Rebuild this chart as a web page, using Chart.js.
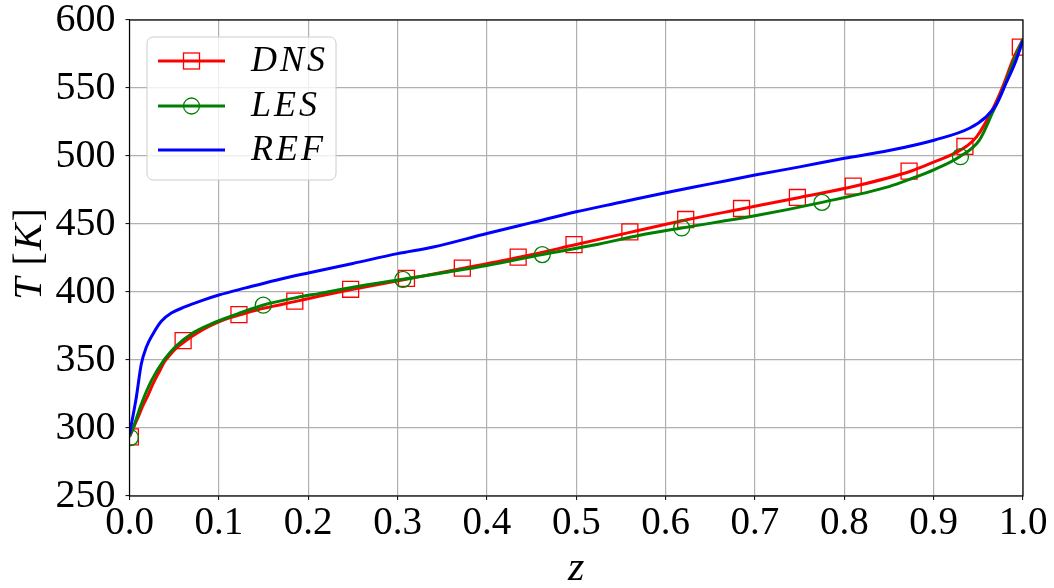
<!DOCTYPE html>
<html>
<head>
<meta charset="utf-8">
<script src="https://cdn.jsdelivr.net/npm/chart.js@4.4.0/dist/chart.umd.min.js"></script>
<style>
  html, body { margin: 0; padding: 0; background: #fff; }
  #wrap { width: 1054px; height: 588px; }
</style>
</head>
<body>
<div id="wrap"><canvas id="tempChart" width="1054" height="588"></canvas></div>
<script>
// Temperature profiles T(z)
const dnsZ = [0, 0.005, 0.01, 0.015, 0.02, 0.026, 0.033, 0.039, 0.045, 0.052, 0.0625, 0.075, 0.09, 0.1, 0.112, 0.125, 0.15, 0.1875, 0.213, 0.25, 0.3125, 0.375, 0.4375, 0.5, 0.5625, 0.625, 0.6875, 0.75, 0.8125, 0.875, 0.9, 0.922, 0.9375, 0.948, 0.966, 0.9777, 0.989, 1.0];
const dnsT = [293.5, 301, 308.5, 316.5, 323, 332, 341, 348.5, 353.5, 358.5, 364, 369.5, 375, 378, 381, 383.5, 388, 393.3, 397, 402, 409.8, 417.6, 425.7, 434.9, 444.2, 453.3, 461.4, 469.5, 477.9, 489, 495.5, 501.5, 507.5, 514, 534.4, 551.6, 571.3, 586];

const lesZ = [0, 0.004, 0.0132, 0.0244, 0.0393, 0.0524, 0.0692, 0.0915, 0.121, 0.149, 0.1875, 0.213, 0.25, 0.306, 0.35, 0.4, 0.462, 0.52, 0.571, 0.618, 0.7, 0.775, 0.85, 0.873, 0.9013, 0.929, 0.951, 0.966, 0.9777, 0.989, 1.0];
const lesT = [294, 300, 317.5, 334.6, 350.6, 360.5, 369.2, 376.5, 383.9, 390.3, 396, 399, 403.5, 409.3, 414, 419.5, 427.5, 434.5, 441.7, 447.1, 456, 465.9, 477.5, 482.8, 490.2, 499.5, 511.5, 532, 549.2, 568.9, 586];

const refZ = [0, 0.0076, 0.0132, 0.0188, 0.0263, 0.0356, 0.0468, 0.0618, 0.08, 0.1, 0.13, 0.164, 0.2, 0.25, 0.3, 0.34, 0.4, 0.45, 0.5, 0.55, 0.6, 0.65, 0.7, 0.75, 0.8, 0.85, 0.9013, 0.94, 0.959, 0.97, 0.981, 0.991, 1.0];
const refT = [295.5, 322.5, 347, 359.4, 369.2, 378.5, 384.5, 389, 393.5, 397.8, 403, 408.7, 414, 421, 428.2, 433.1, 443, 451, 459, 466, 473, 479.5, 486, 492, 498.3, 504, 511.8, 520.4, 529, 537.6, 553.5, 568.3, 585];

// marker positions (markevery style)
const dnsMarkZ = [0.001, 0.06, 0.1225, 0.185, 0.2475, 0.31, 0.3725, 0.435, 0.4975, 0.56, 0.6225, 0.685, 0.7475, 0.81, 0.8725, 0.935, 0.997];
const dnsMarkT = [293.5, 364.3, 383.3, 393.3, 402, 410, 417.6, 425.7, 434.9, 444.2, 453.3, 461.4, 469.5, 477.9, 488.9, 507, 580];
const lesMarkZ = [0.001, 0.1497, 0.306, 0.462, 0.618, 0.775, 0.93];
const lesMarkT = [293, 390.3, 409.3, 427.5, 447.1, 465.9, 499.5];

const xTicks = [0, 0.1, 0.2, 0.3, 0.4, 0.5, 0.6, 0.7, 0.8, 0.9, 1.0];
const yTicks = [250, 300, 350, 400, 450, 500, 550, 600];

const legendItems = [
    { text: 'DNS', color: 'rgb(255, 0, 0)', marker: 'rect' },
    { text: 'LES', color: 'rgb(0, 128, 0)', marker: 'circle' },
    { text: 'REF', color: 'rgb(0, 0, 255)', marker: null }
];

const toPoints = (xs, ys) => xs.map((x, i) => ({ x: x, y: ys[i] }));

const SERIF = '"Liberation Serif", "DejaVu Serif", serif';

// black frame round the plot area, like matplotlib spines
const framePlugin = {
    id: 'frame',
    afterDatasetsDraw(chart) {
        const { ctx, chartArea: a } = chart;
        ctx.save();
        ctx.strokeStyle = '#000';
        ctx.lineWidth = 1.2;
        ctx.strokeRect(a.left, a.top, a.right - a.left, a.bottom - a.top);
        ctx.restore();
    }
};

// axis titles with mixed italic / upright text
const titlesPlugin = {
    id: 'axisTitles',
    afterDraw(chart) {
        const { ctx, chartArea: a } = chart;
        ctx.save();
        ctx.fillStyle = '#000';
        ctx.textBaseline = 'alphabetic';

        // x title
        ctx.font = 'italic 42px ' + SERIF;
        ctx.textAlign = 'center';
        ctx.fillText('z', (a.left + a.right) / 2, 580);

        // y title, rotated
        const parts = [
            { t: 'T', f: 'italic 40px ' + SERIF },
            { t: ' [', f: '40px ' + SERIF },
            { t: 'K', f: 'italic 40px ' + SERIF },
            { t: ']', f: '40px ' + SERIF }
        ];
        let total = 0;
        parts.forEach(p => { ctx.font = p.f; p.w = ctx.measureText(p.t).width + 2; total += p.w; });
        ctx.translate(41, (a.top + a.bottom) / 2 - 5);
        ctx.rotate(-Math.PI / 2);
        ctx.textAlign = 'left';
        let x = -total / 2;
        parts.forEach(p => { ctx.font = p.f; ctx.fillText(p.t, x, 0); x += p.w; });
        ctx.restore();
    }
};

// legend box drawn like the matplotlib one
const legendPlugin = {
    id: 'mplLegend',
    afterDraw(chart) {
        const ctx = chart.ctx;
        const bx = 147, by = 37, bw = 189, bh = 143, r = 6;
        ctx.save();
        ctx.beginPath();
        ctx.roundRect(bx, by, bw, bh, r);
        ctx.fillStyle = 'rgba(255, 255, 255, 0.8)';
        ctx.fill();
        ctx.strokeStyle = '#cccccc';
        ctx.lineWidth = 1;
        ctx.stroke();

        const rows = [61, 106, 150];
        legendItems.forEach((item, i) => {
            const y = rows[i];
            ctx.beginPath();
            ctx.moveTo(158, y);
            ctx.lineTo(225, y);
            ctx.strokeStyle = item.color;
            ctx.lineWidth = 3;
            ctx.stroke();
            ctx.lineWidth = 1.3;
            if (item.marker === 'rect') {
                ctx.strokeRect(183.5, y - 8, 16, 16);
            } else if (item.marker === 'circle') {
                ctx.beginPath();
                ctx.arc(191.5, y, 8, 0, Math.PI * 2);
                ctx.stroke();
            }
            ctx.fillStyle = '#000';
            ctx.font = 'italic 36px ' + SERIF;
            ctx.letterSpacing = '3px';
            ctx.textBaseline = 'middle';
            ctx.textAlign = 'left';
            ctx.fillText(item.text, 251, y + 1);
        });
        ctx.restore();
    }
};

const ctx = document.getElementById('tempChart');

new Chart(ctx, {
    type: 'scatter',
    data: {
        datasets: [
            {
                label: 'DNS',
                data: toPoints(dnsZ, dnsT),
                showLine: true,
                borderColor: 'rgb(255, 0, 0)',
                borderWidth: 3,
                pointRadius: 0,
                cubicInterpolationMode: 'monotone',
                clip: 0,
                order: 5
            },
            {
                label: 'DNS markers',
                data: toPoints(dnsMarkZ, dnsMarkT),
                showLine: false,
                pointStyle: 'rect',
                pointRadius: 11.3,
                borderColor: 'rgb(255, 0, 0)',
                backgroundColor: 'rgba(0, 0, 0, 0)',
                borderWidth: 1.3,
                clip: 0,
                order: 4
            },
            {
                label: 'LES',
                data: toPoints(lesZ, lesT),
                showLine: true,
                borderColor: 'rgb(0, 128, 0)',
                borderWidth: 3,
                pointRadius: 0,
                cubicInterpolationMode: 'monotone',
                clip: 0,
                order: 3
            },
            {
                label: 'LES markers',
                data: toPoints(lesMarkZ, lesMarkT),
                showLine: false,
                pointStyle: 'circle',
                pointRadius: 8,
                borderColor: 'rgb(0, 128, 0)',
                backgroundColor: 'rgba(0, 0, 0, 0)',
                borderWidth: 1.3,
                clip: 0,
                order: 2
            },
            {
                label: 'REF',
                data: toPoints(refZ, refT),
                showLine: true,
                borderColor: 'rgb(0, 0, 255)',
                borderWidth: 3,
                pointRadius: 0,
                cubicInterpolationMode: 'monotone',
                clip: 0,
                order: 1
            }
        ]
    },
    options: {
        responsive: false,
        animation: false,
        events: [],
        layout: { padding: { top: 20, right: 31, bottom: 0, left: 0 } },
        plugins: {
            legend: { display: false },
            tooltip: { enabled: false }
        },
        scales: {
            x: {
                type: 'linear',
                min: 0,
                max: 1,
                afterBuildTicks: s => { s.ticks = xTicks.map(v => ({ value: v })); },
                afterFit: s => { s.height = 92; s.paddingLeft = 0; s.paddingRight = 0; },
                ticks: {
                    color: '#000',
                    font: { family: SERIF, size: 39 },
                    padding: 0,
                    maxRotation: 0,
                    callback: v => v.toFixed(1)
                },
                grid: { color: '#b0b0b0', lineWidth: 1.2, tickLength: 4, tickColor: '#000', tickWidth: 1 },
                border: { display: false }
            },
            y: {
                type: 'linear',
                min: 250,
                max: 600,
                afterBuildTicks: s => { s.ticks = yTicks.map(v => ({ value: v })); },
                afterFit: s => { s.width = 129.5; s.paddingTop = 0; s.paddingBottom = 0; },
                ticks: {
                    color: '#000',
                    font: { family: SERIF, size: 40 },
                    padding: 10,
                    callback: v => String(v)
                },
                grid: { color: '#b0b0b0', lineWidth: 1.2, tickLength: 4, tickColor: '#000', tickWidth: 1 },
                border: { display: false }
            }
        }
    },
    plugins: [framePlugin, titlesPlugin, legendPlugin]
});
</script>
</body>
</html>
